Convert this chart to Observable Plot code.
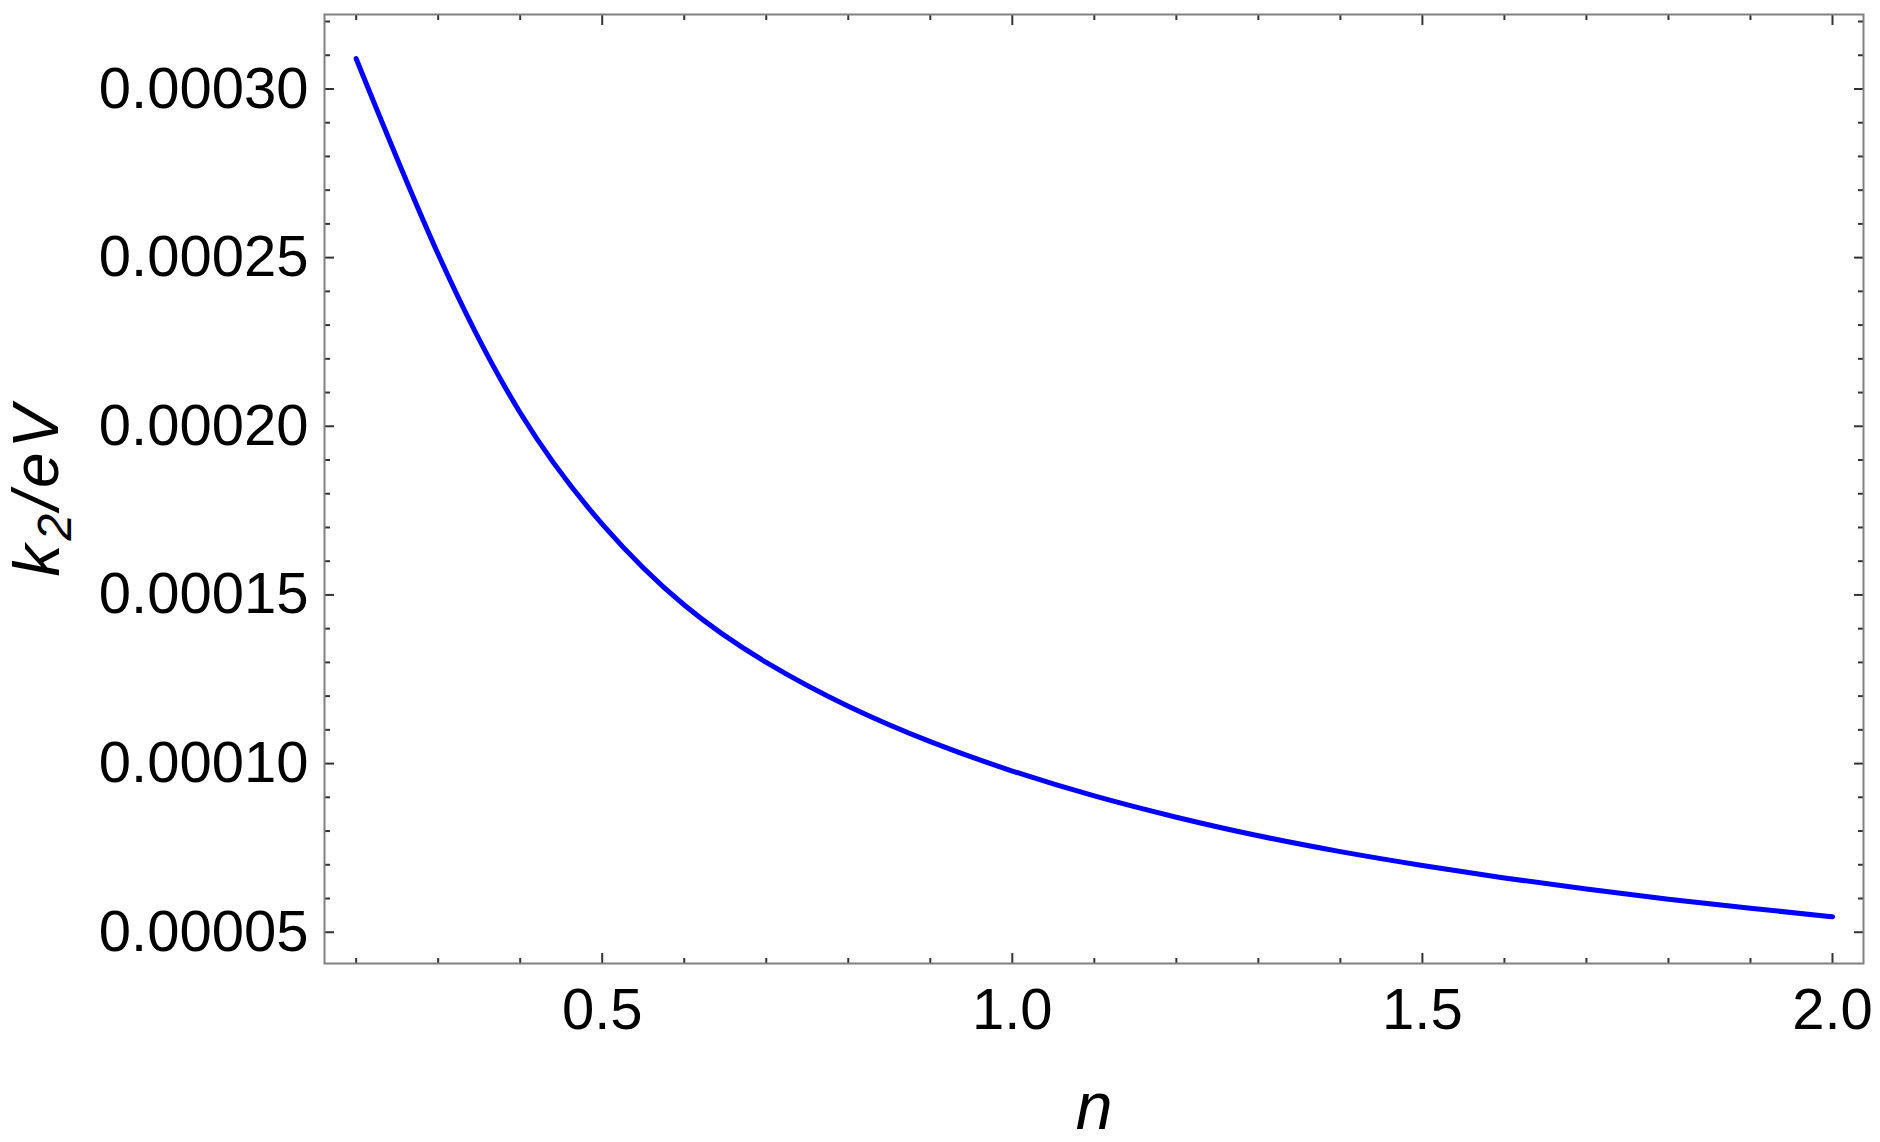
<!DOCTYPE html>
<html><head><meta charset="utf-8">
<script src="https://cdn.jsdelivr.net/npm/d3@7"></script>
<script src="https://cdn.jsdelivr.net/npm/@observablehq/plot@0.6"></script>
<style>html,body{margin:0;padding:0;background:#fff} svg{display:block}</style>
</head><body><div id="chart"></div>
<script>
// ---- data ----
const nValues  = [0.2, 0.3, 0.4, 0.5, 0.6, 0.7, 0.8, 0.9, 1.0, 1.1, 1.2, 1.3, 1.4, 1.5, 1.6, 1.7, 1.8, 1.9, 2.0];
const k2Values = [0.0003090, 0.0002510, 0.0002040, 0.0001710, 0.0001470, 0.0001300, 0.0001170, 0.0001065, 0.0000978, 0.0000904, 0.0000841, 0.0000786, 0.0000739, 0.0000698, 0.0000661, 0.0000628, 0.0000598, 0.0000571, 0.0000546];

const xMajorTicks = [0.5, 1.0, 1.5, 2.0];
const xTickLabels = ["0.5", "1.0", "1.5", "2.0"];
const xMinorTicks = [0.2, 0.3, 0.4, 0.6, 0.7, 0.8, 0.9, 1.1, 1.2, 1.3, 1.4, 1.6, 1.7, 1.8, 1.9];
const yMajorTicks = [0.00005, 0.00010, 0.00015, 0.00020, 0.00025, 0.00030];
const yTickLabels = ["0.00005", "0.00010", "0.00015", "0.00020", "0.00025", "0.00030"];
const yMinorTicks = [0.00006, 0.00007, 0.00008, 0.00009, 0.00011, 0.00012, 0.00013, 0.00014, 0.00016, 0.00017, 0.00018, 0.00019, 0.00021, 0.00022, 0.00023, 0.00024, 0.00026, 0.00027, 0.00028, 0.00029, 0.00031, 0.00032];
const xLabel = "n";
const yLabel = "k2/eV";

const xDomain = [0.1614, 2.0378];
const yDomain = [0.00004073, 0.00032208];

const data = nValues.map((n, i) => ({n, k2: k2Values[i]}));

const tickColor = "#333";
const chart = Plot.plot({
  width: 1880,
  height: 1142,
  marginLeft: 324,
  marginRight: 17,
  marginTop: 14,
  marginBottom: 179,
  style: {fontFamily: "'Liberation Sans', Arial, sans-serif", fontSize: "58px", background: "#fff", color: "#000"},
  x: {domain: xDomain, label: null},
  y: {domain: yDomain, label: null},
  marks: [
    // minor / major ticks, drawn inward on all four sides
    Plot.axisX(xMinorTicks, {anchor: "bottom", tickSize: -5, tickFormat: () => "", stroke: tickColor, strokeWidth: 2, label: null}),
    Plot.axisX(xMajorTicks, {anchor: "bottom", tickSize: -10, tickFormat: () => "", stroke: tickColor, strokeWidth: 2, label: null}),
    Plot.axisX(xMinorTicks, {anchor: "top", tickSize: -5, tickFormat: () => "", stroke: tickColor, strokeWidth: 2, label: null}),
    Plot.axisX(xMajorTicks, {anchor: "top", tickSize: -10, tickFormat: () => "", stroke: tickColor, strokeWidth: 2, label: null}),
    Plot.axisY(yMinorTicks, {anchor: "left", tickSize: -6, tickFormat: () => "", stroke: tickColor, strokeWidth: 2, label: null}),
    Plot.axisY(yMajorTicks, {anchor: "left", tickSize: -10, tickFormat: () => "", stroke: tickColor, strokeWidth: 2, label: null}),
    Plot.axisY(yMinorTicks, {anchor: "right", tickSize: -6, tickFormat: () => "", stroke: tickColor, strokeWidth: 2, label: null}),
    Plot.axisY(yMajorTicks, {anchor: "right", tickSize: -10, tickFormat: () => "", stroke: tickColor, strokeWidth: 2, label: null}),
    // tick labels
    Plot.axisX(xMajorTicks, {anchor: "bottom", tickSize: 0, tickPadding: 24, tickFormat: d => xTickLabels[xMajorTicks.indexOf(d)], fill: "#000", label: null}),
    Plot.axisY(yMajorTicks, {anchor: "left", tickSize: 0, tickPadding: 16, tickFormat: d => yTickLabels[yMajorTicks.indexOf(d)], fill: "#000", label: null}),
    Plot.frame({stroke: "#808080", strokeWidth: 2}),
    Plot.line(data, {x: "n", y: "k2", stroke: "#0000ff", strokeWidth: 5, curve: "natural"}),
    // axis titles
    Plot.text([xLabel], {frameAnchor: "bottom", text: d => d, dy: 165, textAnchor: "middle", lineAnchor: "bottom", fontStyle: "italic", fontSize: 66, fill: "#000"}),
    Plot.text([yLabel], {frameAnchor: "left", text: d => d, dx: -266, rotate: -90, textAnchor: "middle", lineAnchor: "bottom", fontStyle: "italic", fontSize: 64, fill: "#000"})
  ]
});

// subscript for the y-axis title
d3.select(chart).selectAll("text").filter(function() { return this.textContent === yLabel; }).each(function() {
  const t = d3.select(this);
  t.text(null).attr("letter-spacing", "4px");
  t.append("tspan").text("k");
  t.append("tspan").attr("dy", "0.25em").attr("font-size", "0.75em").text("2");
  t.append("tspan").attr("dy", "-0.19em").text("/eV");
});

document.getElementById("chart").appendChild(chart);
</script>
</body></html>
